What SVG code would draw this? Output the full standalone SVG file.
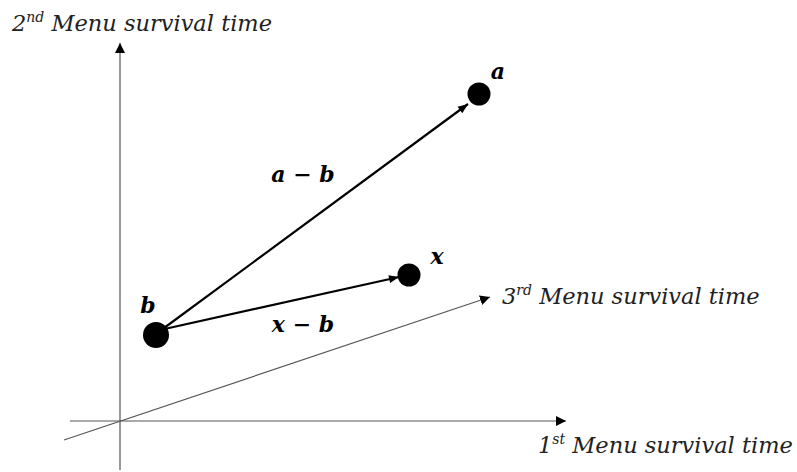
<svg xmlns="http://www.w3.org/2000/svg" width="797" height="472" viewBox="0 0 797 472">
<style>
.ax{stroke:#555;stroke-width:1.2;fill:none}
.vec{stroke:#000;stroke-width:2.2;fill:none}
.lbl{font-family:"DejaVu Serif","Liberation Serif",serif;font-style:italic;font-size:22.5px;fill:#222}
.sup{font-size:14px}
.pt{font-family:"DejaVu Serif","Liberation Serif",serif;font-style:italic;font-weight:bold;font-size:22px;fill:#000}
</style>
<defs>
<marker id="ah" viewBox="0 0 10 10" refX="10" refY="5" markerWidth="10" markerHeight="10" markerUnits="userSpaceOnUse" orient="auto"><path d="M0,0 L10,5 L0,10 z" fill="#000"/></marker>
<marker id="ah2" viewBox="0 0 10 10" refX="10" refY="5" markerWidth="12" markerHeight="10" markerUnits="userSpaceOnUse" orient="auto"><path d="M0,1 L10,5 L0,9 z" fill="#000"/></marker>
</defs>
<g id="connectors">
<line class="ax" x1="120" y1="470" x2="120" y2="43" marker-end="url(#ah)"/>
<line class="ax" x1="70" y1="421" x2="566" y2="421" marker-end="url(#ah)"/>
<line class="ax" x1="64" y1="440" x2="490" y2="297" marker-end="url(#ah)"/>
<line class="vec" x1="160" y1="331" x2="468" y2="104" marker-end="url(#ah2)"/>
<line class="vec" x1="160" y1="330" x2="399" y2="277" marker-end="url(#ah2)"/>
</g>
<g id="node-b"><circle cx="156" cy="335" r="13" fill="#000"/><text class="pt" x="148" y="313" text-anchor="middle">b</text></g>
<g id="node-a"><circle cx="479" cy="94" r="11.5" fill="#000"/><text class="pt" x="498" y="79" text-anchor="middle">a</text></g>
<g id="node-x"><circle cx="409" cy="275" r="11.5" fill="#000"/><text class="pt" x="437" y="264" text-anchor="middle">x</text></g>
<g id="label-amb"><text class="pt" x="303" y="182" text-anchor="middle">a − b</text></g>
<g id="label-xmb"><text class="pt" x="303" y="332" text-anchor="middle">x − b</text></g>
<g id="axis-2"><text class="lbl" x="12" y="31">2<tspan class="sup" dy="-9">nd</tspan><tspan dy="9"> Menu survival time</tspan></text></g>
<g id="axis-3"><text class="lbl" x="502" y="304">3<tspan class="sup" dy="-9">rd</tspan><tspan dy="9"> Menu survival time</tspan></text></g>
<g id="axis-1"><text class="lbl" x="538" y="453">1<tspan class="sup" dy="-9">st</tspan><tspan dy="9"> Menu survival time</tspan></text></g>
</svg>
